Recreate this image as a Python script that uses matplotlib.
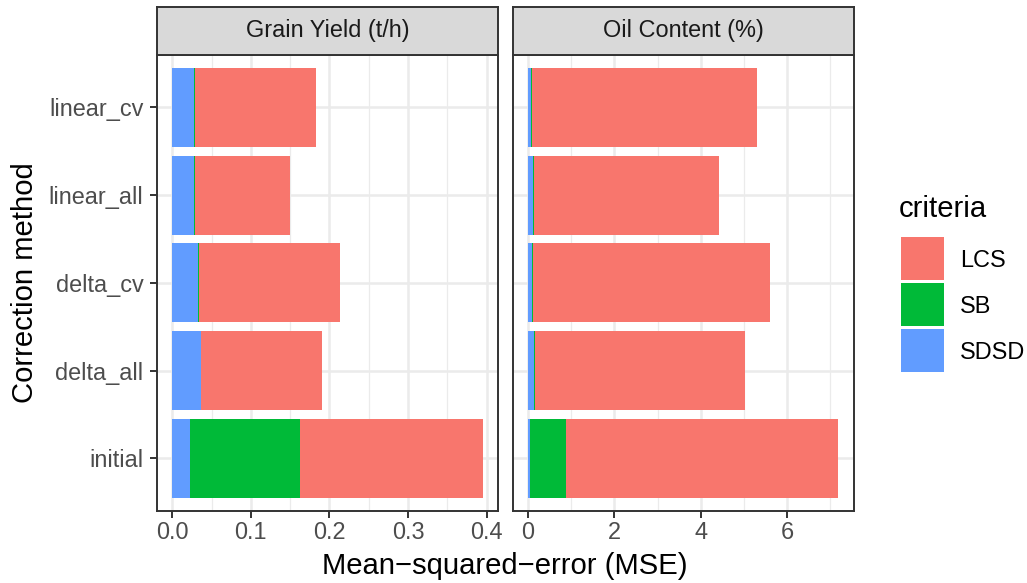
import matplotlib
matplotlib.use("Agg")
import matplotlib.pyplot as plt
from matplotlib.ticker import MultipleLocator
from matplotlib.patches import Rectangle
import numpy as np

plt.rcParams['font.family'] = ['Liberation Sans', 'DejaVu Sans']

# ---- data ----
methods = ["initial", "delta_all", "delta_cv", "linear_all", "linear_cv"]
criteria = ["LCS", "SB", "SDSD"]
panels = ["Grain Yield (t/h)", "Oil Content (%)"]

gy_SDSD = [0.022, 0.036, 0.033, 0.028, 0.028]
gy_SB   = [0.140, 0.001, 0.0005, 0.001, 0.0004]
gy_LCS  = [0.233, 0.153, 0.180, 0.121, 0.155]

oc_SDSD = [0.035, 0.148, 0.10, 0.125, 0.08]
oc_SB   = [0.85, 0.005, 0.02, 0.025, 0.02]
oc_LCS  = [6.29, 4.86, 5.49, 4.28, 5.21]

xticks_gy = [0.0, 0.1, 0.2, 0.3, 0.4]
xticklabels_gy = ["0.0", "0.1", "0.2", "0.3", "0.4"]
xticks_oc = [0, 2, 4, 6]
xticklabels_oc = ["0", "2", "4", "6"]

colors = {"LCS": "#F8766D", "SB": "#00BA38", "SDSD": "#619CFF"}

W, H = 1027, 583
fig = plt.figure(figsize=(W / 100, H / 100), dpi=100)

def fx(px):
    return px / W

def fy(py):
    return 1 - py / H

panel_top, panel_bot = 54.65, 511.0
strip_top = 7.3
boxes = [(156.7, 498.3), (512.5, 853.5)]

tick_fs = 16.9
title_fs = 21.1
grey20 = "#333333"

data = [
    (gy_SDSD, gy_SB, gy_LCS, xticks_gy, xticklabels_gy, 0.05),
    (oc_SDSD, oc_SB, oc_LCS, xticks_oc, xticklabels_oc, 1.0),
]

y = np.arange(1, len(methods) + 1)
for i, ((x0, x1), (sdsd, sb, lcs, xt, xtl, minor)) in enumerate(zip(boxes, data)):
    ax = fig.add_axes([fx(x0), fy(panel_bot), fx(x1 - x0), (panel_bot - panel_top) / H])
    sdsd = np.array(sdsd); sb = np.array(sb); lcs = np.array(lcs)
    ax.barh(y, sdsd, height=0.9, color=colors["SDSD"], linewidth=0, zorder=2)
    ax.barh(y, sb, left=sdsd, height=0.9, color=colors["SB"], linewidth=0, zorder=2)
    ax.barh(y, lcs, left=sdsd + sb, height=0.9, color=colors["LCS"], linewidth=0, zorder=2)
    tot = (sdsd + sb + lcs).max()
    ax.set_xlim(-0.05 * tot, 1.05 * tot)
    ax.set_ylim(0.4, len(methods) + 0.6)
    ax.set_axisbelow(True)
    ax.set_xticks(xt)
    ax.set_xticklabels(xtl)
    ax.xaxis.set_minor_locator(MultipleLocator(minor))
    ax.set_yticks(y)
    if i == 0:
        ax.set_yticklabels(methods)
        ax.tick_params(axis='y', length=6.9 * 0.72, width=1.4, color=grey20,
                       labelsize=tick_fs, labelcolor="#4D4D4D", pad=4.5)
    else:
        ax.set_yticklabels([])
        ax.tick_params(axis='y', length=0)
    ax.tick_params(axis='x', which='major', length=6.9 * 0.72, width=1.4, color=grey20,
                   labelsize=tick_fs, labelcolor="#4D4D4D", pad=2.5)
    ax.tick_params(axis='x', which='minor', length=0)
    ax.grid(True, which='major', color="#EBEBEB", linewidth=1.8)
    ax.grid(True, which='minor', axis='x', color="#EBEBEB", linewidth=0.9)
    for s in ax.spines.values():
        s.set_color(grey20)
        s.set_linewidth(1.4)
        s.set_zorder(5)

    sax = fig.add_axes([fx(x0), fy(panel_top), fx(x1 - x0), (panel_top - strip_top) / H])
    sax.set_facecolor("#D9D9D9")
    sax.set_xticks([]); sax.set_yticks([])
    for s in sax.spines.values():
        s.set_color(grey20)
        s.set_linewidth(1.4)
    sax.text(0.5, 0.5, panels[i], ha='center', va='center', fontsize=tick_fs,
             color="#1A1A1A", transform=sax.transAxes)

fig.text(fx(505), fy(574), "Mean\u2212squared\u2212error (MSE)", ha='center', va='baseline',
         fontsize=title_fs, color='black')
fig.text(fx(25.5), fy((panel_top + panel_bot) / 2), "Correction method", ha='center',
         va='center', rotation=90, fontsize=title_fs, color='black')

# ---- legend (drawn manually in figure pixels) ----
fig.text(fx(898.5), fy(216.7), "criteria", ha='left', va='baseline',
         fontsize=title_fs, color='black')
key_x0, key_w, key_h, key_top, key_pitch = 901, 43, 42.7, 237, 46
for k, c in enumerate(criteria):
    top = key_top + k * key_pitch
    fig.patches.append(Rectangle((fx(key_x0), fy(top + key_h)), fx(key_w), key_h / H,
                                 transform=fig.transFigure, facecolor=colors[c],
                                 edgecolor='none'))
    fig.text(fx(960), fy(top + key_h / 2), c, ha='left', va='center_baseline',
             fontsize=tick_fs, color='black')

fig.savefig("out.png", dpi=100)
